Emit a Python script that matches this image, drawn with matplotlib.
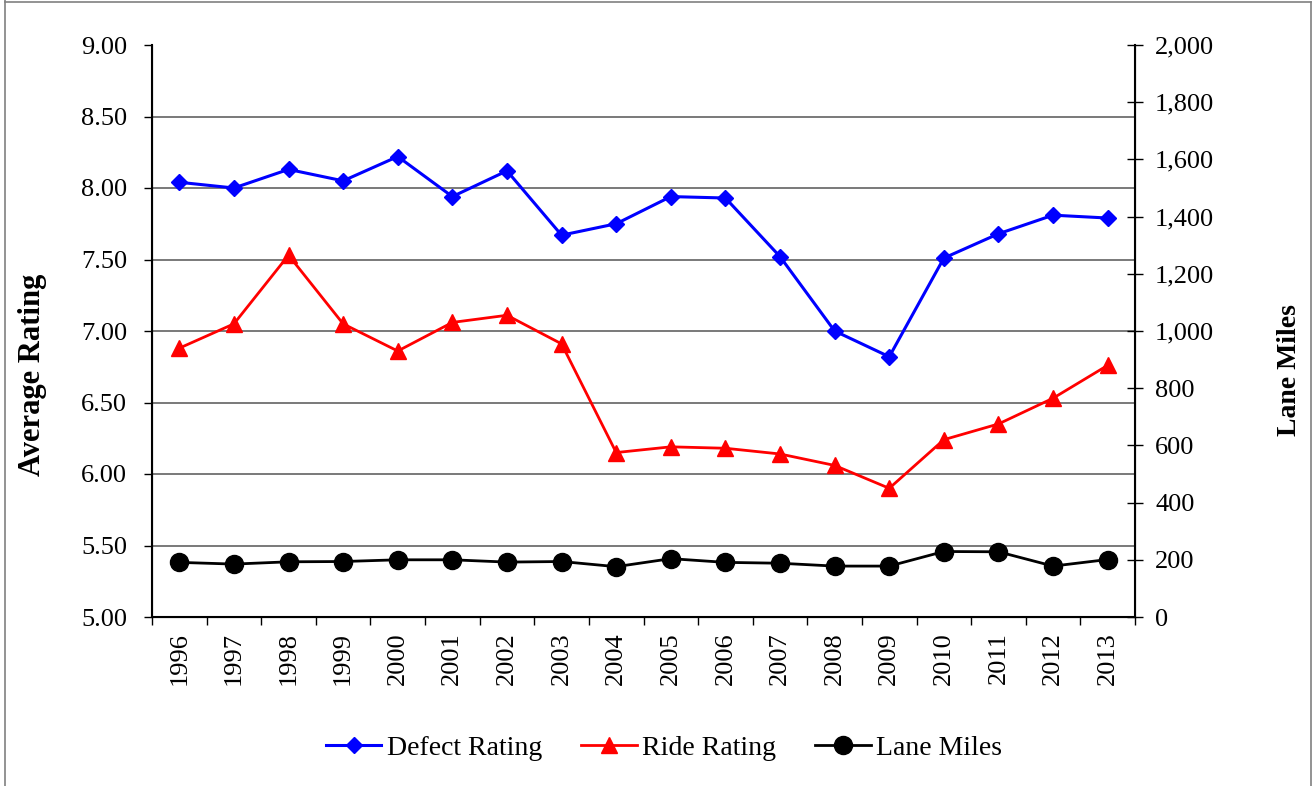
import matplotlib
matplotlib.use("Agg")
import matplotlib.pyplot as plt
from matplotlib.lines import Line2D
from matplotlib.ticker import FuncFormatter, FixedLocator

plt.rcParams['font.family'] = ['Liberation Serif', 'DejaVu Serif']

years = ["1996", "1997", "1998", "1999", "2000", "2001", "2002", "2003", "2004",
         "2005", "2006", "2007", "2008", "2009", "2010", "2011", "2012", "2013"]
defect_rating = [8.04, 8.00, 8.13, 8.05, 8.22, 7.94, 8.12, 7.67, 7.75,
                 7.94, 7.93, 7.52, 7.00, 6.82, 7.51, 7.68, 7.81, 7.79]
ride_rating = [6.88, 7.05, 7.53, 7.05, 6.86, 7.06, 7.11, 6.91, 6.15,
               6.19, 6.18, 6.14, 6.06, 5.90, 6.24, 6.35, 6.53, 6.76]
lane_miles = [191, 185, 193, 194, 200, 200, 192, 194, 176,
              204, 191, 188, 178, 178, 229, 228, 178, 201]

W, H = 1313, 786
fig = plt.figure(figsize=(W / 100, H / 100), dpi=100)
fig.patch.set_facecolor("white")

# outer chart frame
for xs, ys in (([5, 5], [0, H]), ([5, 1311], [H - 2, H - 2]), ([1311, 1311], [0, H - 2])):
    fig.add_artist(Line2D([x / W for x in xs], [y / H for y in ys],
                          transform=fig.transFigure, color="#808080", lw=1.2))

left, right, top, bottom = 152, 1135, 45, 617
ax = fig.add_axes([left / W, 1 - bottom / H, (right - left) / W, (bottom - top) / H])
ax2 = ax.twinx()

x = list(range(len(years)))

ax.set_xlim(-0.5, len(years) - 0.5)
ax.set_ylim(5.0, 9.0)
ax2.set_ylim(0, 2000)

for yv in [5.5, 6.0, 6.5, 7.0, 7.5, 8.0, 8.5]:
    ax.axhline(yv, color="#555555", lw=1.1, zorder=0)

ax.spines["top"].set_visible(False)
ax2.spines["top"].set_visible(False)
for s in ("left", "bottom"):
    ax.spines[s].set_linewidth(1.5)
ax2.spines["right"].set_linewidth(1.5)

ax.set_yticks([5.0, 5.5, 6.0, 6.5, 7.0, 7.5, 8.0, 8.5, 9.0])
ax.yaxis.set_major_formatter(FuncFormatter(lambda v, p: f"{v:.2f}"))
ax.tick_params(axis="y", direction="out", length=6, width=1, pad=12, labelsize=19)

ax2.set_yticks(range(0, 2001, 200))
ax2.yaxis.set_major_formatter(FuncFormatter(lambda v, p: f"{int(v):,}"))
ax2.tick_params(axis="y", direction="inout", length=11, width=1, pad=9, labelsize=19)

ax.set_xticks(x)
ax.set_xticklabels(years, rotation=90)
ax.tick_params(axis="x", which="major", length=0, pad=11, labelsize=19)
ax.xaxis.set_minor_locator(FixedLocator([i + 0.5 for i in range(-1, len(years))]))
ax.tick_params(axis="x", which="minor", direction="out", length=6, width=1)

l1, = ax.plot(x, defect_rating, color="#0000FF", lw=2.2, marker="D", markersize=8.5,
              label="Defect Rating", zorder=3)
l2, = ax.plot(x, ride_rating, color="#FF0000", lw=2.0, marker="^", markersize=11,
              label="Ride Rating", zorder=3)
l3, = ax2.plot(x, lane_miles, color="#000000", lw=2.0, marker="o", markersize=13,
               label="Lane Miles", zorder=3)

fig.text(33 / W, 1 - 375 / H, "Average Rating", rotation=90, fontsize=22,
         fontweight="bold", ha="center", va="center")
fig.text(1289 / W, 1 - 370 / H, "Lane Miles", rotation=90, fontsize=20,
         fontweight="bold", ha="center", va="center")

fig.legend(handles=[l1, l2, l3], loc="center", bbox_to_anchor=(664 / W, 1 - 748 / H),
           ncol=3, frameon=False, fontsize=20, handlelength=2.0, columnspacing=1.4,
           handletextpad=0.2)

fig.savefig("out.png", dpi=100)
